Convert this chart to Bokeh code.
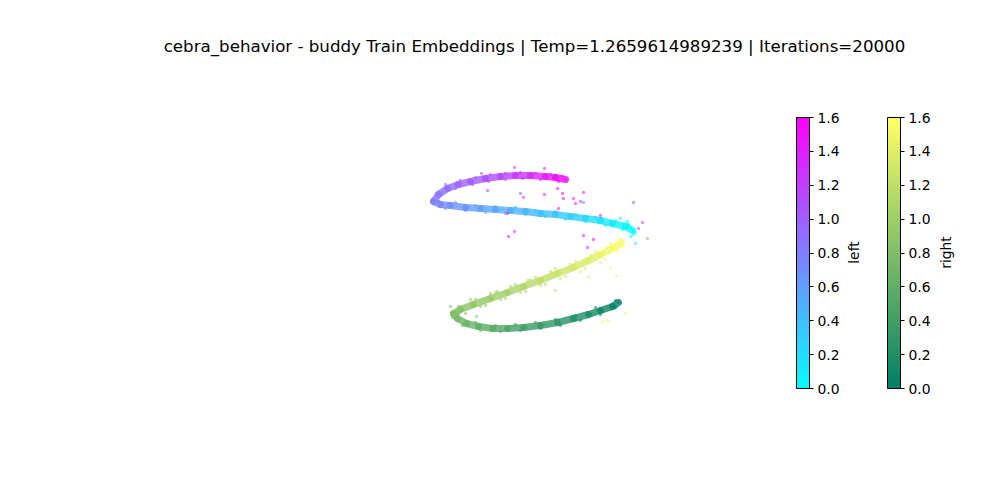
import numpy as np
from bokeh.plotting import figure
from bokeh.models import (ColumnDataSource, LinearColorMapper, ColorBar, FixedTicker,
                          PrintfTickFormatter, Label, Range1d)
from bokeh.transform import transform
from bokeh.embed import file_html
from bokeh.resources import INLINE

TITLE = "cebra_behavior - buddy Train Embeddings | Temp=1.2659614989239 | Iterations=20000"
CBAR_TICKS = [0.0, 0.2, 0.4, 0.6, 0.8, 1.0, 1.2, 1.4, 1.6]

# ---- "left" arm (cool colormap): centre line, projected embedding coords ----
left_x = [1.32, 1.25, 1.12, 1.00, 0.85, 0.70, 0.55, 0.40, 0.25, 0.10, -0.05, -0.20, -0.35,
          -0.50, -0.60, -0.67, -0.62, -0.53, -0.42, -0.30, -0.15, 0.00, 0.15, 0.30, 0.45, 0.55, 0.65]
left_y = [0.40, 0.44, 0.47, 0.50, 0.52, 0.54, 0.56, 0.57, 0.59, 0.60, 0.61, 0.62, 0.63,
          0.65, 0.66, 0.69, 0.76, 0.82, 0.86, 0.89, 0.92, 0.94, 0.95, 0.95, 0.94, 0.93, 0.91]
left_v = [0.00, 0.05, 0.11, 0.18, 0.24, 0.30, 0.35, 0.40, 0.45, 0.50, 0.55, 0.59, 0.64,
          0.70, 0.74, 0.80, 0.85, 0.90, 0.95, 1.00, 1.07, 1.14, 1.22, 1.30, 1.40, 1.48, 1.58]

# scattered samples of the "left" arm (band spread and outliers)
left_px = [-0.55, -0.40, -0.25, -0.10, 0.05, 0.20, 0.35, 0.50, 0.62,
           -0.58, -0.45, -0.28, -0.12, 0.05, 0.22, 0.40, 0.58,
           -0.62, -0.45, -0.25, -0.05, 0.15, 0.35, 0.55, 0.75, 0.95, 1.15, 1.28,
           -0.55, -0.35, -0.15, 0.05, 0.25, 0.45, 0.65, 0.85, 1.05, 1.22, 1.33, 1.30,
           1.20, 1.30, 1.35, 1.27,
           0.14, 0.44, -0.19, -0.13, 0.20, 0.23, 0.44, 0.57, 0.62, 0.63, 0.73, 0.75, 0.83, 0.80,
           0.83, 1.33, 1.42, 1.38, 0.93, 0.83, 0.14, 0.08, 0.58, 0.07, 1.00, 1.35, 0.87]
left_py = [0.86, 0.90, 0.93, 0.96, 0.97, 0.98, 0.97, 0.96, 0.94,
           0.78, 0.82, 0.86, 0.89, 0.91, 0.92, 0.91, 0.89,
           0.69, 0.68, 0.65, 0.64, 0.63, 0.60, 0.59, 0.56, 0.53, 0.50, 0.46,
           0.62, 0.60, 0.58, 0.57, 0.56, 0.54, 0.51, 0.49, 0.45, 0.41, 0.36, 0.43,
           0.52, 0.34, 0.38, 0.49,
           1.03, 1.02, 0.97, 0.80, 0.77, 0.73, 0.76, 0.82, 0.77, 0.72, 0.72, 0.67, 0.78, 0.69,
           0.68, 0.68, 0.48, 0.42, 0.31, 0.35, 0.39, 0.34, 0.62, 0.57, 0.55, 0.27, 0.23]
left_pv = [0.90, 0.96, 1.03, 1.10, 1.17, 1.25, 1.34, 1.45, 1.55,
           0.87, 0.93, 1.00, 1.09, 1.17, 1.26, 1.37, 1.52,
           0.78, 0.68, 0.60, 0.55, 0.48, 0.42, 0.35, 0.28, 0.20, 0.10, 0.04,
           0.76, 0.66, 0.57, 0.51, 0.45, 0.39, 0.31, 0.24, 0.15, 0.06, 0.01, 0.02,
           0.08, 0.00, 0.00, 0.03,
           1.30, 1.40, 1.15, 1.20, 1.00, 1.25, 1.40, 1.50, 1.50, 1.45, 1.40, 1.45, 1.30, 1.40,
           0.70, 1.15, 1.10, 1.10, 1.58, 1.50, 1.40, 1.40, 1.50, 1.45, 1.45, 0.05, 1.45]

# ---- "right" arm (summer colormap) ----
right_x = [1.18, 1.12, 1.00, 0.88, 0.73, 0.57, 0.40, 0.23, 0.07, -0.08, -0.22, -0.34, -0.43,
           -0.47, -0.40, -0.27, -0.10, 0.07, 0.23, 0.40, 0.57, 0.73, 0.88, 1.00, 1.12, 1.21]
right_y = [-0.32, -0.36, -0.40, -0.44, -0.48, -0.52, -0.55, -0.57, -0.58, -0.58, -0.56, -0.53, -0.48,
           -0.43, -0.39, -0.34, -0.28, -0.22, -0.16, -0.10, -0.03, 0.03, 0.10, 0.16, 0.22, 0.28]
right_v = [0.00, 0.04, 0.10, 0.15, 0.21, 0.27, 0.33, 0.40, 0.47, 0.53, 0.60, 0.66, 0.72,
           0.78, 0.82, 0.88, 0.95, 1.02, 1.09, 1.16, 1.24, 1.31, 1.38, 1.45, 1.52, 1.60]

right_px = [-0.42, -0.25, -0.05, 0.15, 0.35, 0.55, 0.75, 0.95, 1.10, 1.20,
            -0.35, -0.15, 0.05, 0.25, 0.45, 0.65, 0.85, 1.05, 1.17, 1.22,
            -0.48, -0.38, -0.20, 0.00, 0.20, 0.40, 0.60, 0.80, 1.00, 1.15,
            -0.42, -0.25, -0.05, 0.15, 0.35, 0.55, 0.75, 0.95, 1.15,
            -0.30, -0.10, 0.10, 0.30, 0.50, 0.70, 0.90, 1.08,
            -0.20, 0.00, 0.20, 0.40, 0.60, 0.80, 1.00,
            1.25, 1.02, 1.07, 1.16, 1.10, 0.88, 0.55, -0.50, -0.24, -0.03, 0.27, 1.47]
right_py = [-0.36, -0.29, -0.22, -0.14, -0.07, 0.02, 0.09, 0.19, 0.27, 0.31,
            -0.43, -0.35, -0.28, -0.21, -0.14, -0.06, 0.02, 0.11, 0.20, 0.24,
            -0.47, -0.55, -0.60, -0.61, -0.60, -0.58, -0.55, -0.50, -0.44, -0.37,
            -0.43, -0.52, -0.55, -0.54, -0.52, -0.49, -0.45, -0.37, -0.30,
            -0.29, -0.23, -0.16, -0.09, -0.01, 0.06, 0.15, 0.23,
            -0.36, -0.29, -0.22, -0.15, -0.08, -0.01, 0.08,
            -0.43, -0.51, -0.50, -0.06, 0.02, -0.07, -0.20, -0.36, -0.46, -0.21, -0.10, 0.32]
right_pv = [0.80, 0.89, 0.98, 1.06, 1.14, 1.23, 1.32, 1.43, 1.52, 1.58,
            0.84, 0.93, 1.01, 1.10, 1.18, 1.27, 1.36, 1.47, 1.55, 1.60,
            0.74, 0.68, 0.60, 0.50, 0.41, 0.33, 0.26, 0.18, 0.10, 0.03,
            0.76, 0.60, 0.51, 0.43, 0.35, 0.28, 0.20, 0.11, 0.02,
            0.87, 0.96, 1.04, 1.12, 1.20, 1.29, 1.39, 1.50,
            0.91, 0.99, 1.07, 1.15, 1.24, 1.33, 1.42,
            1.50, 1.40, 1.40, 1.50, 1.55, 1.40, 1.20, 0.80, 0.85, 0.95, 1.10, 0.80]

# ---- colormaps ----
t = np.linspace(0, 1, 256)
cool = ["#%02x%02x%02x" % (int(round(255 * a)), int(round(255 * (1 - a))), 255) for a in t]
summer = ["#%02x%02x%02x" % (int(round(255 * a)), int(round(255 * (0.5 + 0.5 * a))), 102) for a in t]
cool_map = LinearColorMapper(palette=cool, low=0.0, high=1.6)
summer_map = LinearColorMapper(palette=summer, low=0.0, high=1.6)

p = figure(width=1000, height=500, output_backend="svg", toolbar_location=None,
           x_axis_location=None, y_axis_location=None, min_border=0,
           x_range=Range1d(-5, 5), y_range=Range1d(-2.3, 2.7))
p.grid.visible = False
p.outline_line_color = None
p.background_fill_color = "white"
p.border_fill_color = "white"


def add_arm(xs, ys, vs, pxs, pys, pvs, mapper, lw):
    xs, ys, vs = map(np.asarray, (xs, ys, vs))
    seg = ColumnDataSource(dict(x0=xs[:-1], y0=ys[:-1], x1=xs[1:], y1=ys[1:],
                                v=(vs[:-1] + vs[1:]) / 2))
    p.segment("x0", "y0", "x1", "y1", source=seg, line_width=lw, line_alpha=0.8,
              line_cap="round", line_color=transform("v", mapper))
    pts = ColumnDataSource(dict(x=list(pxs) + list(xs), y=list(pys) + list(ys), v=list(pvs) + list(vs)))
    p.scatter("x", "y", source=pts, size=3.5, fill_alpha=0.55, line_alpha=0,
              fill_color=transform("v", mapper))


add_arm(right_x, right_y, right_v, right_px, right_py, right_pv, summer_map, 7)
add_arm(left_x, left_y, left_v, left_px, left_py, left_pv, cool_map, 7)

FONT = "DejaVu Sans"


def add_cbar(mapper, x0, label, lx):
    cb = ColorBar(color_mapper=mapper, location=(x0, 112), width=13, height=271, padding=0,
                  ticker=FixedTicker(ticks=CBAR_TICKS), formatter=PrintfTickFormatter(format="%.1f"),
                  major_label_text_font_size="13.9px", major_label_text_font=FONT,
                  major_label_text_color="black",
                  major_tick_out=4, major_tick_in=0, major_tick_line_color="black",
                  minor_tick_line_color=None, bar_line_color="black", label_standoff=4,
                  background_fill_alpha=0, border_line_color=None)
    p.add_layout(cb, "center")
    p.add_layout(Label(x=lx, y=248, x_units="screen", y_units="screen", text=label,
                       angle=np.pi / 2, text_align="center", text_baseline="middle",
                       text_font_size="13.9px", text_font=FONT, text_color="black"))


add_cbar(cool_map, 796, "left", 853)
add_cbar(summer_map, 887, "right", 945)

p.add_layout(Label(x=534, y=454, x_units="screen", y_units="screen", text=TITLE,
                   text_align="center", text_baseline="middle", text_font_size="16.67px",
                   text_font=FONT, text_color="black"))

open("out.html", "w").write(file_html(p, INLINE))
